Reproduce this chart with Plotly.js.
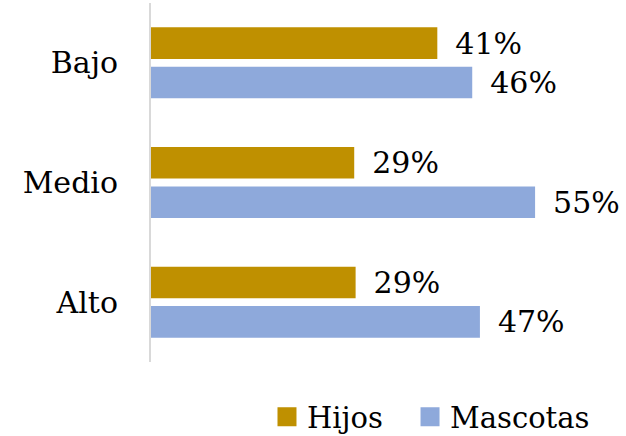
<!DOCTYPE html>
<html>
<head>
<meta charset="utf-8">
<script src="https://cdn.plot.ly/plotly-3.0.1.min.js"></script>
<style>html,body{margin:0;padding:0;background:#fff;}#chart{width:626px;height:436px;}</style>
</head>
<body>
<div id="chart"></div>
<script>
var categories = ["Bajo", "Medio", "Alto"];
var hijosValues = [41.0, 29.1, 29.3];
var mascotasValues = [46.0, 55.0, 47.1];
var hijosLabels = ["41%", "29%", "29%"];
var mascotasLabels = ["46%", "55%", "47%"];

var FONT = "DejaVu Serif";
var GAP = "\u2002";

function withGap(arr){ return arr.map(function(s){ return GAP + s; }); }

var traces = [
  {
    type: "bar", orientation: "h", name: "Hijos",
    x: hijosValues, y: categories,
    text: withGap(hijosLabels), textposition: "outside", cliponaxis: false, constraintext: "none",
    textfont: {family: FONT, size: 30, color: "#000"},
    marker: {color: "#BF9000"}, showlegend: false, hoverinfo: "none"
  },
  {
    type: "bar", orientation: "h", name: "Mascotas",
    x: mascotasValues, y: categories,
    text: withGap(mascotasLabels), textposition: "outside", cliponaxis: false, constraintext: "none",
    textfont: {family: FONT, size: 30, color: "#000"},
    marker: {color: "#8EA9DB"}, showlegend: false, hoverinfo: "none"
  },
  {
    type: "scatter", mode: "markers", name: "Hijos", x: [null], y: [null], legend: "legend",
    marker: {symbol: "square", size: 16, color: "#BF9000", line: {color: "#BF9000", width: 3}}, showlegend: true
  },
  {
    type: "scatter", mode: "markers", name: "Mascotas", x: [null], y: [null], legend: "legend2",
    marker: {symbol: "square", size: 16, color: "#8EA9DB", line: {color: "#8EA9DB", width: 3}}, showlegend: true
  }
];

var legendFont = {family: FONT, size: 29, color: "#000"};

var layout = {
  width: 626, height: 436,
  margin: {l: 151, r: 56, t: 3, b: 74},
  paper_bgcolor: "#fff", plot_bgcolor: "#fff",
  barmode: "group", bargap: 0.34, bargroupgap: 0.2,
  font: {family: FONT, size: 30, color: "#000"},
  xaxis: {range: [0, 60], showgrid: false, zeroline: false, showticklabels: false, showline: false, fixedrange: true},
  yaxis: {autorange: "reversed", categoryorder: "array", categoryarray: categories,
          showgrid: false, zeroline: false, showline: true, linecolor: "#d9d9d9", linewidth: 2,
          ticks: "", ticklabelstandoff: 25, tickfont: {family: FONT, size: 30, color: "#000"}, fixedrange: true},
  showlegend: true,
  legend: {orientation: "h", xref: "container", yref: "container", x: 0.4265, xanchor: "left", y: 0.044, yanchor: "middle",
           font: legendFont, bgcolor: "rgba(0,0,0,0)"},
  legend2: {orientation: "h", xref: "container", yref: "container", x: 0.655, xanchor: "left", y: 0.044, yanchor: "middle",
           font: legendFont, bgcolor: "rgba(0,0,0,0)"}
};

Plotly.newPlot("chart", traces, layout, {displayModeBar: false, staticPlot: true});
</script>
</body>
</html>
